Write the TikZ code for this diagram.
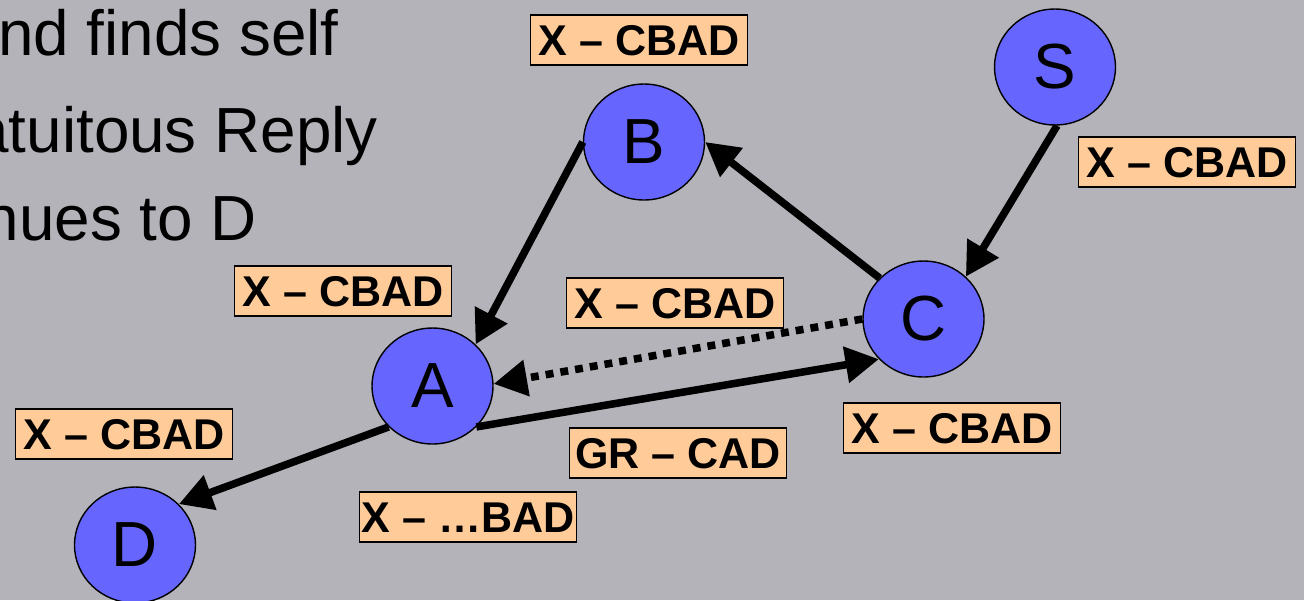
\documentclass[tikz,border=0pt]{standalone}
\usepackage{fontspec}
\setmainfont{Liberation Sans}
\usetikzlibrary{shapes.geometric,arrows.meta}
\definecolor{slidebg}{RGB}{180,179,186}
\definecolor{hostblue}{RGB}{102,102,255}
\definecolor{tagorange}{RGB}{255,204,153}

\begin{document}
\begin{tikzpicture}[x=0.02cm,y=-0.02cm,
  host/.style={ellipse, draw=black, line width=0.8pt, fill=hostblue,
    minimum width=2.42cm, minimum height=2.32cm, inner sep=0pt,
    font=\fontsize{36.3}{40}\selectfont},
  tag/.style={draw=black, line width=0.8pt, fill=tagorange,
    font=\fontsize{24.5}{27}\selectfont\bfseries,
    inner sep=0pt, minimum width=4.34cm, minimum height=1.0cm,
    text height=17.5pt, text depth=0pt},
  msg/.style={line width=4.3pt, -{Triangle[length=19pt,width=20pt]}},
  bullet/.style={font=\fontsize{36.3}{40}\selectfont, inner sep=0pt}
]
% slide background and frame
\path[use as bounding box, fill=slidebg] (0,0) rectangle (1304,600);
\clip (0,0) rectangle (1304,600);

% bullet text running in from the left
\node[bullet, anchor=base west] (l1) at (-2,55) {nd finds self};
\node[bullet, anchor=base east] (l2) at (378,152) {atuitous Reply};
\node[bullet, anchor=base east] (l3) at (257,240) {nues to D};

% hosts
\node[host] (S) at (1055,67) {S};
\node[host] (C) at (923.5,319) {C};
\node[host] (B) at (644,142) {B};
\node[host] (A) at (432.5,386) {A};
\node[host] (D) at (135,545) {D};

% packet flow
\draw[msg] (S.-88) -- (C.45);
\draw[msg] (C.137) -- (B.0);
\draw[msg] (B.180) -- (A.44);
\draw[msg, dash pattern=on 4.5pt off 4pt] (C.180) -- (A.2);
\draw[msg] (A.-43) -- (C.-138);
\draw[msg] (A.-137) -- (D.43);

% source routes carried by the packets
\node[tag] (t1) at (639,40) {X – CBAD};
\node[tag] (t2) at (1187,162) {X – CBAD};
\node[tag] (t3) at (343,291) {X – CBAD};
\node[tag] (t4) at (675,303) {X – CBAD};
\node[tag] (t5) at (952,428) {X – CBAD};
\node[tag] (t6) at (678,453) {GR – CAD};
\node[tag] (t7) at (124,434) {X – CBAD};
\node[tag] (t8) at (468,517) {X – …BAD};
\end{tikzpicture}
\end{document}
